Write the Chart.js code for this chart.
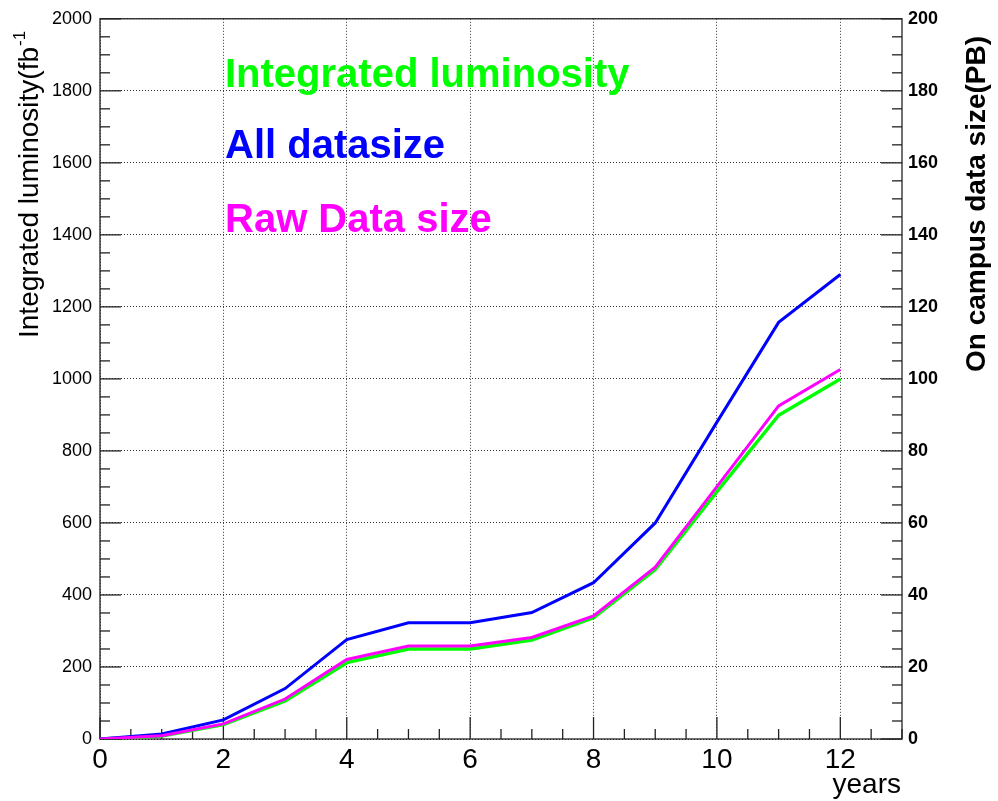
<!DOCTYPE html>
<html>
<head>
<meta charset="utf-8">
<script src="https://cdn.jsdelivr.net/npm/chart.js@4/dist/chart.umd.min.js"></script>
<style>
  html, body { margin: 0; padding: 0; background: #fff; }
  canvas { display: block; }
</style>
</head>
<body>
<canvas id="lumiChart" width="998" height="801"></canvas>
<script>
// years since start
const years = [0, 1, 2, 3, 4, 5, 6, 7, 8, 9, 10, 11, 12];
// integrated luminosity, fb^-1 (left axis)
const luminosity = [0, 8, 40, 106, 212, 250, 250, 275, 337, 471, 687, 899, 1000];
// on campus data size, PB (right axis)
const allDataSize = [0, 1.4, 5.3, 14, 27.6, 32.3, 32.3, 35.1, 43.4, 60, 88, 115.7, 129];
const rawDataSize = [0, 0.9, 4.2, 11.1, 22.1, 25.8, 25.8, 28.2, 34.2, 47.7, 70.1, 92.5, 102.6];

const FONT = '"Liberation Sans", Arial, Helvetica, sans-serif';

const toPoints = (vals) => years.map((x, i) => ({ x: x, y: vals[i] }));
const plain = (v) => String(v);

// ROOT style frame : inward ticks, box, titles, text legend
const rootStyle = {
  id: 'rootStyle',
  beforeDatasetsDraw(chart) {
    const { ctx, chartArea: a, scales } = chart;
    const line = (x1, y1, x2, y2) => {
      ctx.beginPath(); ctx.moveTo(x1, y1); ctx.lineTo(x2, y2); ctx.stroke();
    };
    ctx.save();
    ctx.strokeStyle = '#222';
    ctx.lineWidth = 1.3;
    for (let v = 0; v <= 13; v += 0.5) {
      const x = scales.x.getPixelForValue(v);
      line(x, a.bottom, x, a.bottom - (v % 2 === 0 ? 22 : 10));
    }
    for (let v = 0; v <= 2000; v += 50) {
      const y = scales.y.getPixelForValue(v);
      line(a.left, y, a.left + (v % 200 === 0 ? 21 : 10), y);
    }
    for (let v = 0; v <= 200; v += 5) {
      const y = scales.y2.getPixelForValue(v);
      line(a.right, y, a.right - (v % 20 === 0 ? 21 : 10), y);
    }
    ctx.strokeRect(a.left, a.top, a.right - a.left, a.bottom - a.top);
    ctx.restore();
  },
  afterDraw(chart) {
    const { ctx, chartArea: a } = chart;
    ctx.save();
    ctx.fillStyle = '#000';
    ctx.textAlign = 'left';
    ctx.textBaseline = 'alphabetic';

    // left axis title with superscript
    ctx.save();
    ctx.translate(38, 338);
    ctx.rotate(-Math.PI / 2);
    ctx.font = '28px ' + FONT;
    const t = 'Integrated luminosity(fb';
    ctx.fillText(t, 0, 0);
    const w = ctx.measureText(t).width;
    ctx.font = '17px ' + FONT;
    ctx.fillText('-1', w + 1, -13);
    ctx.restore();

    // right axis title
    ctx.save();
    ctx.translate(985, 372);
    ctx.rotate(-Math.PI / 2);
    ctx.font = 'bold 28px ' + FONT;
    ctx.fillText('On campus data size(PB)', 0, 0);
    ctx.restore();

    // x axis title
    ctx.font = '28px ' + FONT;
    ctx.textAlign = 'right';
    ctx.fillText('years', a.right - 1, 793);

    // text legend
    ctx.textAlign = 'left';
    ctx.font = 'bold 40px ' + FONT;
    const baselines = [87, 158, 232];
    chart.data.datasets.forEach((ds, i) => {
      ctx.fillStyle = ds.borderColor;
      ctx.fillText(ds.label, a.left + 125, baselines[i]);
    });
    ctx.restore();
  }
};

new Chart(document.getElementById('lumiChart').getContext('2d'), {
  type: 'line',
  data: {
    datasets: [{
      label: 'Integrated luminosity',
      data: toPoints(luminosity),
      borderColor: '#00ff00',
      borderWidth: 3.5,
      yAxisID: 'y',
      order: 3
    }, {
      label: 'All datasize',
      data: toPoints(allDataSize),
      borderColor: '#0000ff',
      borderWidth: 3,
      yAxisID: 'y2',
      order: 2
    }, {
      label: 'Raw Data size',
      data: toPoints(rawDataSize),
      borderColor: '#ff00ff',
      borderWidth: 3,
      yAxisID: 'y2',
      order: 1
    }]
  },
  options: {
    responsive: false,
    animation: false,
    events: [],
    elements: {
      point: { radius: 0 },
      line: { tension: 0, fill: false }
    },
    layout: { padding: { top: 15 } },
    plugins: {
      legend: { display: false },
      tooltip: { enabled: false }
    },
    scales: {
      x: {
        type: 'linear',
        min: 0,
        max: 13,
        afterFit: (s) => { s.height = 62; },
        ticks: {
          stepSize: 2,
          includeBounds: false,
          padding: 4,
          color: '#000',
          callback: plain,
          font: { family: FONT, size: 28 }
        },
        grid: { color: '#333', lineWidth: 1, drawTicks: false },
        border: { display: false, dash: [1, 2] }
      },
      y: {
        position: 'left',
        min: 0,
        max: 2000,
        afterFit: (s) => { s.width = 100; },
        ticks: {
          stepSize: 200,
          padding: 8,
          color: '#000',
          callback: plain,
          font: { family: FONT, size: 18 }
        },
        grid: { color: '#333', lineWidth: 1, drawTicks: false },
        border: { display: false, dash: [1, 2] }
      },
      y2: {
        position: 'right',
        min: 0,
        max: 200,
        afterFit: (s) => { s.width = 96; },
        ticks: {
          stepSize: 20,
          padding: 6,
          color: '#000',
          callback: plain,
          font: { family: FONT, size: 18, weight: 'bold' }
        },
        grid: { drawOnChartArea: false, drawTicks: false },
        border: { display: false }
      }
    }
  },
  plugins: [rootStyle]
});
</script>
</body>
</html>
